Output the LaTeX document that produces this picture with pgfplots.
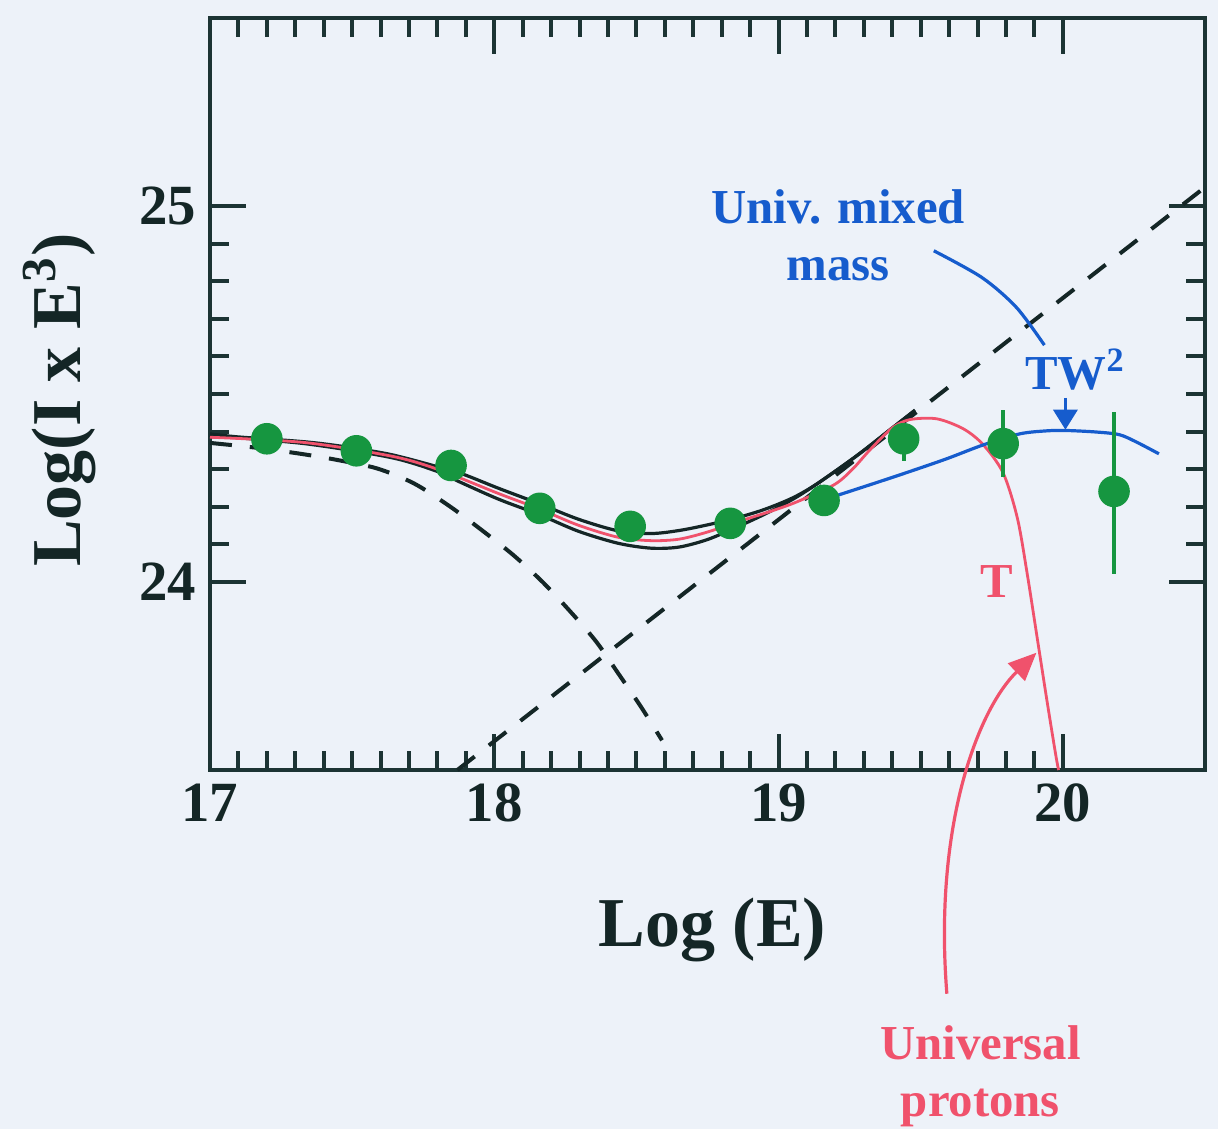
\documentclass[border=0pt]{standalone}
\usepackage{pgfplots}
\pgfplotsset{compat=1.18}
\usepackage{fontspec}
\setmainfont{Liberation Serif}
\usetikzlibrary{arrows.meta}

\definecolor{bg}{RGB}{237,242,249}
\definecolor{frame}{RGB}{28,52,52}
\definecolor{pt}{RGB}{22,150,64}
\definecolor{bl}{RGB}{22,92,205}
\definecolor{rd}{RGB}{240,82,108}
\definecolor{blk}{RGB}{20,38,38}

\pgfplotstableread{
x y ep em
17.20 24.381 0 0
17.515 24.349 0 0
17.848 24.310 0 0
18.16 24.196 0 0
18.478 24.148 0 0
18.83 24.156 0 0
19.16 24.217 0 0
19.44 24.381 0.04 0.06
19.79 24.368 0.09 0.088
20.18 24.241 0.212 0.22
}\datapts

\begin{document}
\begin{tikzpicture}
\path[use as bounding box, fill=bg] (-52.5pt,-89.75pt) rectangle (252pt,192.5pt);
\begin{axis}[
  at={(0,0)}, anchor=south west,
  scale only axis, width=248.75pt, height=188pt,
  xmin=17, xmax=20.5, ymin=23.5, ymax=25.5,
  xtick={17,18,19,20}, ytick={24,25},
  minor x tick num=9, minor y tick num=9,
  tick align=inside,
  major tick length=9pt, minor tick length=4.8pt,
  every tick/.style={frame, line width=1pt},
  axis line style={frame, line width=1.2pt},
  clip=false,
  /pgf/number format/assume math mode=true,
  ticklabel style={font=\bfseries\fontsize{14.2}{16}\selectfont, text=blk},
  xlabel={Log (E)}, ylabel={Log(I x E\textsuperscript{3})},
  xlabel style={at={(axis description cs:0.505,-0.213)}, anchor=center, font=\bfseries\fontsize{17.5}{20}\selectfont, text=blk},
  ylabel style={at={(axis description cs:-0.151,0.492)}, anchor=center, font=\bfseries\fontsize{17.5}{20}\selectfont, text=blk},
]
% dashed components
\addplot[blk, line width=1pt, dash pattern=on 5.5pt off 4.5pt, smooth] coordinates {
(17.0,24.370) (17.165,24.357) (17.319,24.341) (17.445,24.325) (17.588,24.302)
(17.718,24.262) (17.844,24.201) (17.956,24.138) (18.068,24.071) (18.170,24.0)
(18.268,23.921) (18.359,23.841) (18.436,23.757) (18.517,23.667) (18.590,23.579)};
\addplot[blk, line width=1pt, dash pattern=on 5.5pt off 4.5pt] coordinates {
(17.87,23.5) (20.5,25.05)};
% black fits
\addplot[blk, line width=0.8pt, smooth] coordinates {
(17.0,24.394) (17.098,24.386) (17.333,24.373) (17.473,24.360) (17.637,24.339)
(17.799,24.307) (17.886,24.288) (18.016,24.249) (18.156,24.209) (18.296,24.167)
(18.436,24.136) (18.552,24.129) (18.65,24.137) (18.75,24.152) (18.85,24.170)
(18.95,24.193) (19.05,24.224) (19.137,24.262) (19.277,24.337) (19.392,24.405) (19.48,24.457)};
\addplot[blk, line width=0.8pt, smooth] coordinates {
(17.0,24.389) (17.333,24.368) (17.637,24.331) (17.80,24.294) (17.876,24.267)
(18.016,24.220) (18.156,24.180) (18.296,24.135) (18.436,24.103) (18.552,24.090)
(18.65,24.093) (18.75,24.113) (18.85,24.145) (18.95,24.180) (19.05,24.220)
(19.137,24.262) (19.277,24.337) (19.392,24.405) (19.48,24.457)};
% red T (universal protons)
\addplot[rd, line width=0.7pt, smooth] coordinates {
(17.0,24.385) (17.333,24.371) (17.637,24.335) (17.80,24.300) (18.016,24.235)
(18.156,24.195) (18.296,24.151) (18.436,24.119) (18.552,24.110) (18.65,24.114)
(18.75,24.133) (18.881,24.166) (18.98,24.190) (19.067,24.214) (19.196,24.259)
(19.26,24.300) (19.322,24.352) (19.40,24.410) (19.462,24.432) (19.557,24.434)
(19.651,24.407) (19.72,24.365) (19.79,24.290) (19.84,24.170) (19.875,24.020)
(19.91,23.850) (19.945,23.680) (19.975,23.540) (19.985,23.5)};
% blue TW2 (universal mixed mass)
\addplot[bl, line width=0.8pt, smooth] coordinates {
(19.172,24.222) (19.217,24.233) (19.347,24.265) (19.462,24.294) (19.592,24.328)
(19.721,24.365) (19.848,24.394) (19.942,24.402) (20.012,24.403) (20.117,24.399)
(20.198,24.392) (20.257,24.373) (20.338,24.341)};
% data points
\addplot[only marks, mark=*, mark size=3.75pt, color=pt,
  error bars/.cd, y dir=both, y explicit, error mark=none,
  error bar style={pt, line width=1pt}]
  table[x=x, y=y, y error plus=ep, y error minus=em] {\datapts};
% annotation pointers
\addplot[bl, line width=0.8pt, smooth] coordinates {
(19.546,24.881) (19.715,24.810) (19.837,24.730) (19.935,24.630)};
\addplot[bl, line width=0.8pt, -{Triangle[width=6pt,length=5pt]}] coordinates {
(20.009,24.49) (20.009,24.405)};
\draw[rd, line width=0.8pt, -{Triangle[width=6pt,length=7pt]}]
  (axis cs:19.592,22.905) .. controls (axis cs:19.545,23.35) and (axis cs:19.70,23.66) .. (axis cs:19.907,23.812);
% labels
\node[text=bl, align=center, font=\bfseries\fontsize{12.2}{14.25}\selectfont] at (axis cs:19.21,24.923) {Univ. mixed\\mass};
\node[text=bl, anchor=base west, font=\bfseries\fontsize{12.2}{14.25}\selectfont, inner sep=0pt] at (axis cs:19.865,24.513) {TW\textsuperscript{2}};
\node[text=rd, anchor=base, font=\bfseries\fontsize{12.2}{14.25}\selectfont, inner sep=0pt] at (axis cs:19.767,23.958) {T};
\node[text=rd, align=center, font=\bfseries\fontsize{12.2}{14.25}\selectfont] at (axis cs:19.71,22.685) {Universal\\protons};
\end{axis}
\end{tikzpicture}
\end{document}
